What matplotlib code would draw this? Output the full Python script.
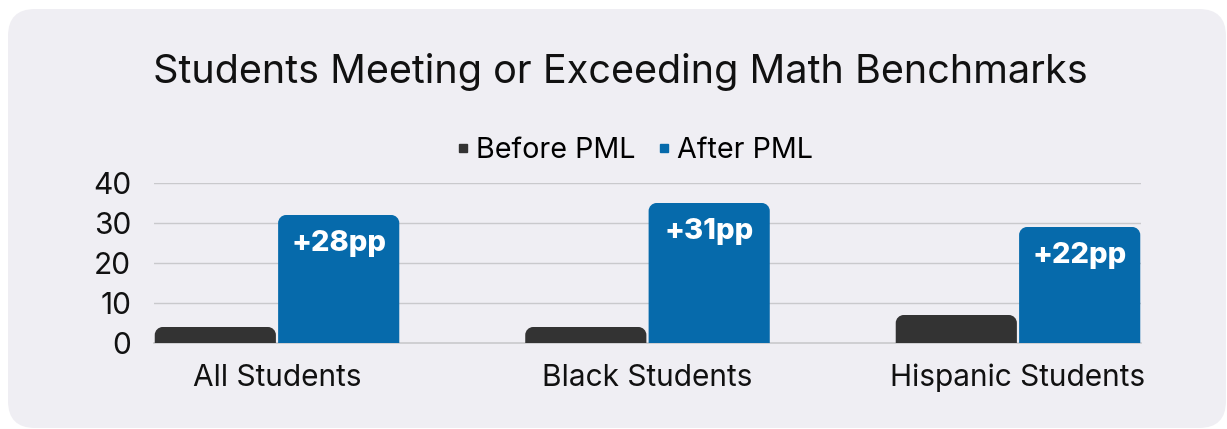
import matplotlib
matplotlib.use("Agg")
import matplotlib.pyplot as plt
from matplotlib.patches import FancyBboxPatch, PathPatch
from matplotlib.path import Path
import numpy as np

plt.rcParams['font.family'] = ['Inter', 'DejaVu Sans']

categories = ["All Students", "Black Students", "Hispanic Students"]
before = [4, 4, 7]
after = [32, 35, 29]
gains = ["+28pp", "+31pp", "+22pp"]
series_names = ["Before PML", "After PML"]
yticks = [0, 10, 20, 30, 40]

BG = "#efeef3"
DARK = "#333333"
BLUE = "#066aab"

W, H = 1227, 429
fig = plt.figure(figsize=(W / 100, H / 100), dpi=100)
fig.patch.set_facecolor("white")

bg = FancyBboxPatch((8 / W, 1 / H), (1218) / W, (419) / H,
                    boxstyle="round,pad=0,rounding_size=0.022",
                    transform=fig.transFigure, facecolor=BG, edgecolor="none",
                    mutation_aspect=W / H, zorder=-5)
fig.patches.append(bg)

ax_l, ax_r = 154 / W, 1141 / W
ax_b, ax_t = 1 - 343 / H, 1 - 183 / H
ax = fig.add_axes([ax_l, ax_b, ax_r - ax_l, ax_t - ax_b])
ax.set_facecolor("none")
xmin, xmax = -0.332, 2.332
ax.set_xlim(xmin, xmax)
ax.set_ylim(0, 40)

px_per_x = (ax_r - ax_l) * W / (xmax - xmin)
px_per_y = (ax_t - ax_b) * H / 40.0
R = 8.0


def rounded_bar(x0, width, height, color):
    rx = R / px_per_x
    ry = min(R / px_per_y, height)
    k = 0.5523
    x1 = x0 + width
    verts = [
        (x0, 0), (x0, height - ry),
        (x0, height - ry + ry * k), (x0 + rx - rx * k, height), (x0 + rx, height),
        (x1 - rx, height),
        (x1 - rx + rx * k, height), (x1, height - ry + ry * k), (x1, height - ry),
        (x1, 0), (x0, 0),
    ]
    codes = [Path.MOVETO, Path.LINETO,
             Path.CURVE4, Path.CURVE4, Path.CURVE4,
             Path.LINETO,
             Path.CURVE4, Path.CURVE4, Path.CURVE4,
             Path.LINETO, Path.CLOSEPOLY]
    ax.add_patch(PathPatch(Path(verts, codes), facecolor=color, edgecolor="none", zorder=3))


bw = 0.327
gap = 0.006
x = np.arange(len(categories))
for i in range(len(categories)):
    rounded_bar(x[i] - bw - gap / 2, bw, before[i], DARK)
    rounded_bar(x[i] + gap / 2, bw, after[i], BLUE)
    ax.text(x[i] + gap / 2 + bw / 2, after[i] - 15.0 / px_per_y, gains[i],
            ha="center", va="top", color="white", fontsize=21,
            fontweight=800, zorder=4)

ax.set_yticks(yticks)
ax.set_yticklabels([str(t) for t in yticks])
ax.set_xticks(x)
ax.set_xticklabels(categories)
ax.tick_params(axis="both", length=0, labelsize=21.5, colors="#111111")
ax.tick_params(axis="y", pad=16.5)
ax.tick_params(axis="x", pad=15)
for t in yticks[1:]:
    ax.axhline(t, color="#c9c9cc", linewidth=1, zorder=1)
for s in ["top", "right", "left"]:
    ax.spines[s].set_visible(False)
ax.spines["bottom"].set_color("#c9c9cc")
ax.spines["bottom"].set_linewidth(1.2)
ax.spines["bottom"].set_zorder(2)

fig.text(620 / W, 1 - 72 / H, "Students Meeting or Exceeding Math Benchmarks",
         ha="center", va="center", fontsize=28.5, color="#111111")

h1 = plt.Line2D([], [], marker="s", linestyle="none", color=DARK, markersize=5.5)
h2 = plt.Line2D([], [], marker="s", linestyle="none", color=BLUE, markersize=5.5)
fig.legend([h1, h2], series_names, loc="center", bbox_to_anchor=(632 / W, 1 - 151 / H),
           ncol=2, frameon=False, fontsize=20.7, handletextpad=0.05, columnspacing=0.6,
           handlelength=0.8)

fig.savefig("out.png", dpi=100, facecolor="white")
